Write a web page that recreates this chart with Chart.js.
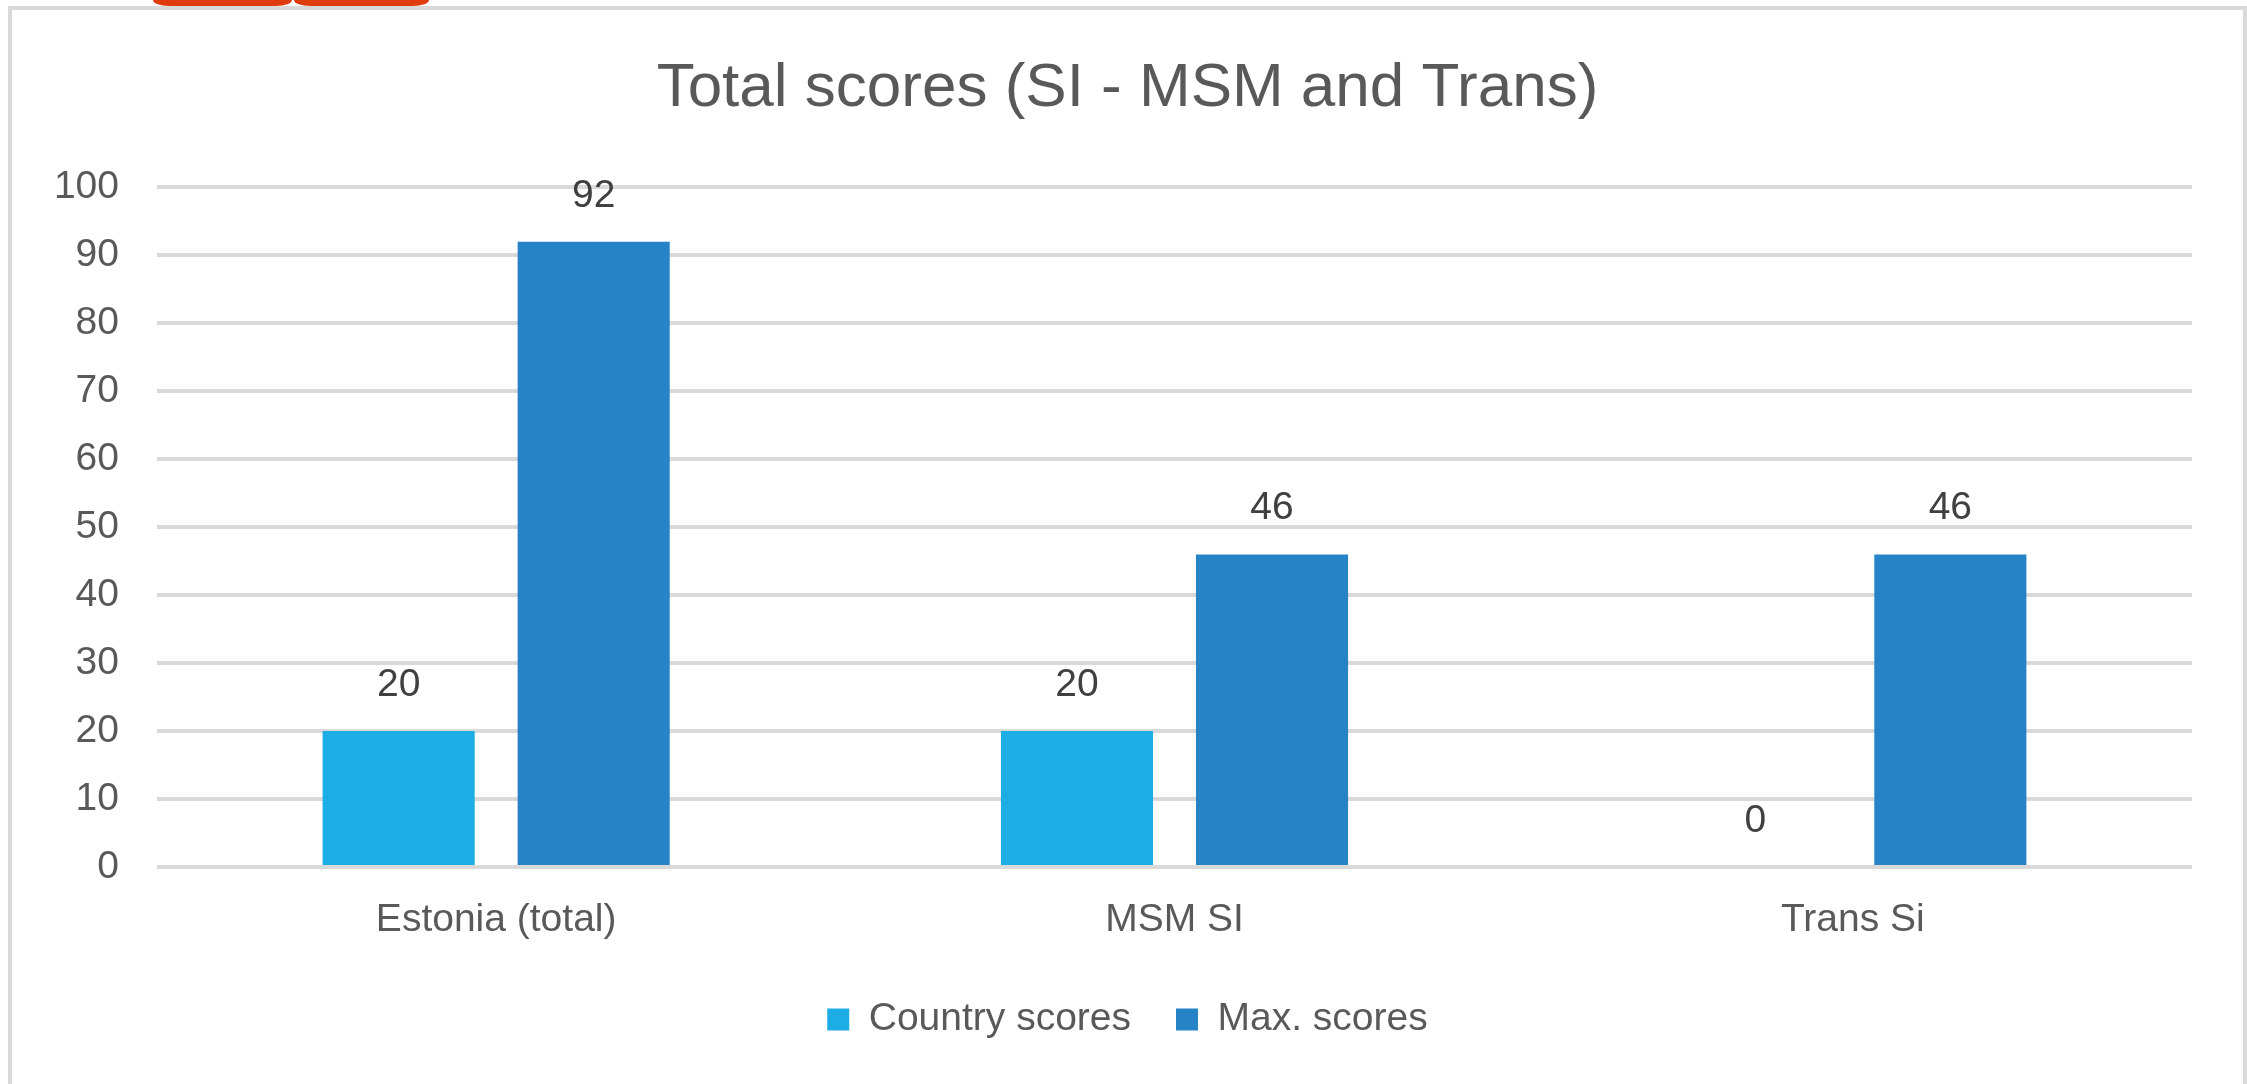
<!DOCTYPE html>
<html>
<head>
<meta charset="utf-8">
<title>Total scores (SI - MSM and Trans)</title>
<script src="https://cdn.jsdelivr.net/npm/chart.js@4.4.0/dist/chart.umd.min.js"></script>
<style>
  html, body { margin: 0; padding: 0; background: #fff; overflow: hidden; }
  #frame { position: absolute; left: 8px; top: 6px; width: 2239px; height: 1200px; box-sizing: border-box; border: 4px solid #d9d9d9; }
  .tab { position: absolute; top: 0; height: 6px; background: #e03b0c; border-radius: 0 0 16px 16px / 0 0 6px 6px; }
  #tab1 { left: 153px; width: 139px; }
  #tab2 { left: 294px; width: 135px; }
  #chart { position: absolute; left: 0; top: 0; }
</style>
</head>
<body>
<div id="frame"></div>
<div class="tab" id="tab1"></div>
<div class="tab" id="tab2"></div>
<canvas id="chart" width="2247" height="1084"></canvas>
<script>
// data
const categories = ['Estonia (total)', 'MSM SI', 'Trans Si'];
const seriesNames = ['Country scores', 'Max. scores'];
const countryScores = [20, 20, 0];
const maxScores = [92, 46, 46];
const yMin = 0;
const yMax = 100;
const yStep = 10;

const FONT = '"Liberation Sans", Arial, sans-serif';
const GREY_TEXT = '#595959';

// values drawn above each bar
const barValueLabels = {
  id: 'barValueLabels',
  afterDatasetsDraw(chart) {
    let ctx = chart.ctx;
    ctx.save();
    ctx.font = '39px ' + FONT;
    ctx.fillStyle = '#404040';
    ctx.textAlign = 'center';
    ctx.textBaseline = 'middle';
    chart.data.datasets.forEach(function(ds, i) {
      chart.getDatasetMeta(i).data.forEach(function(bar, j) {
        ctx.fillText(String(ds.data[j]), bar.x, bar.y - 46);
      });
    });
    ctx.restore();
  }
};

// title and legend are centred on the whole frame, not on the plot
const centerOnFrame = {
  id: 'centerOnFrame',
  afterLayout(chart) {
    [chart.titleBlock, chart.legend].forEach(function(box) {
      if (box) {
        box.left = 12;
        box.right = 2243;
        box.width = box.right - box.left;
      }
    });
  }
};

function drawChart(canvas) {
  const data = {
    labels: categories,
    datasets: [{
      label: seriesNames[0],
      backgroundColor: '#1cade4',
      data: countryScores,
    }, {
      label: seriesNames[1],
      backgroundColor: '#2683c6',
      data: maxScores,
    }]
  };

  const thisconfig = {
    type: 'bar',
    data: data,
    plugins: [barValueLabels, centerOnFrame],
    options: {
      responsive: false,
      animation: false,
      devicePixelRatio: 1,
      categoryPercentage: 0.575,
      barPercentage: 0.78,
      layout: {padding: {left: 0, right: 55, top: 0, bottom: 35}},
      plugins: {
        title: {
          display: true,
          text: 'Total scores (SI - MSM and Trans)',
          color: GREY_TEXT,
          font: {family: FONT, size: 62, weight: 'normal', lineHeight: 1.2},
          padding: {top: 52, bottom: 61}
        },
        legend: {
          position: 'bottom',
          labels: {
            boxWidth: 22,
            boxHeight: 22,
            padding: 45,
            color: GREY_TEXT,
            font: {family: FONT, size: 39}
          }
        },
        tooltip: {enabled: false}
      },
      scales: {
        x: {
          grid: {display: false, drawTicks: false},
          border: {display: false},
          ticks: {
            padding: 30,
            color: GREY_TEXT,
            font: {family: FONT, size: 39}
          },
          afterFit: function(scale) { scale.height = 88; }
        },
        y: {
          min: yMin,
          max: yMax,
          grid: {color: '#d9d9d9', lineWidth: 4, drawTicks: false},
          border: {display: false},
          ticks: {
            stepSize: yStep,
            padding: 38,
            color: GREY_TEXT,
            font: {family: FONT, size: 39}
          },
          afterFit: function(scale) { scale.width = 157; }
        }
      }
    }
  };

  const myChart = new Chart(canvas, thisconfig);
}

drawChart(document.getElementById('chart'));
</script>
</body>
</html>
